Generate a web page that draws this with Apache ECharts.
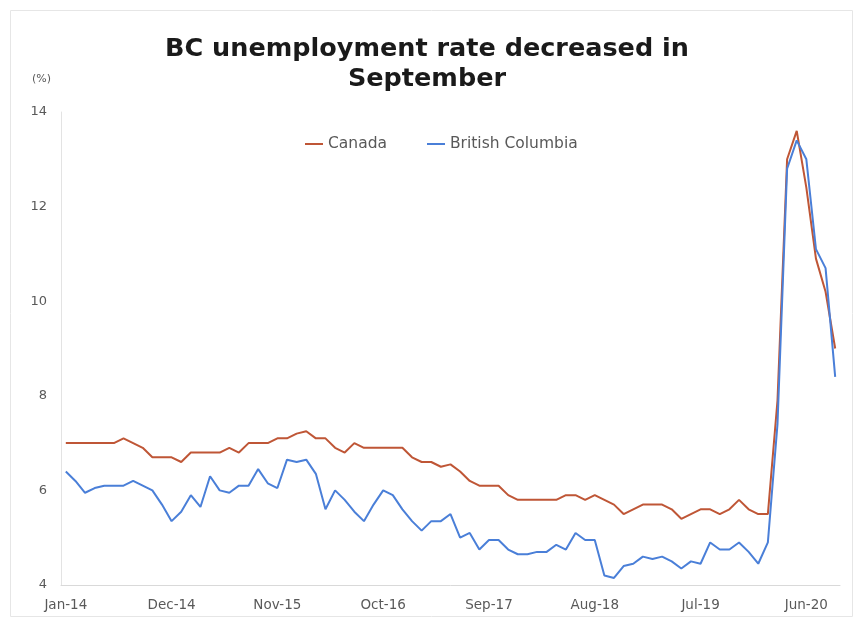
<!DOCTYPE html>
<html>
<head>
<meta charset="utf-8">
<script src="https://cdn.jsdelivr.net/npm/echarts@6/dist/echarts.min.js"></script>
<style>
html,body{margin:0;padding:0;background:#fff;}
#chart{width:854px;height:626px;}
</style>
</head>
<body>
<div id="chart"></div>
<script>
var months = ["Jan-14","Feb-14","Mar-14","Apr-14","May-14","Jun-14","Jul-14","Aug-14","Sep-14","Oct-14","Nov-14","Dec-14",
"Jan-15","Feb-15","Mar-15","Apr-15","May-15","Jun-15","Jul-15","Aug-15","Sep-15","Oct-15","Nov-15","Dec-15",
"Jan-16","Feb-16","Mar-16","Apr-16","May-16","Jun-16","Jul-16","Aug-16","Sep-16","Oct-16","Nov-16","Dec-16",
"Jan-17","Feb-17","Mar-17","Apr-17","May-17","Jun-17","Jul-17","Aug-17","Sep-17","Oct-17","Nov-17","Dec-17",
"Jan-18","Feb-18","Mar-18","Apr-18","May-18","Jun-18","Jul-18","Aug-18","Sep-18","Oct-18","Nov-18","Dec-18",
"Jan-19","Feb-19","Mar-19","Apr-19","May-19","Jun-19","Jul-19","Aug-19","Sep-19","Oct-19","Nov-19","Dec-19",
"Jan-20","Feb-20","Mar-20","Apr-20","May-20","Jun-20","Jul-20","Aug-20","Sep-20"];

var canada = [7.0,7.0,7.0,7.0,7.0,7.0,7.1,7.0,6.9,6.7,6.7,6.7,
6.6,6.8,6.8,6.8,6.8,6.9,6.8,7.0,7.0,7.0,7.1,7.1,
7.2,7.25,7.1,7.1,6.9,6.8,7.0,6.9,6.9,6.9,6.9,6.9,
6.7,6.6,6.6,6.5,6.55,6.4,6.2,6.1,6.1,6.1,5.9,5.8,
5.8,5.8,5.8,5.8,5.9,5.9,5.8,5.9,5.8,5.7,5.5,5.6,
5.7,5.7,5.7,5.6,5.4,5.5,5.6,5.6,5.5,5.6,5.8,5.6,
5.5,5.5,7.9,13.0,13.6,12.4,10.9,10.2,9.0];

var bc = [6.4,6.2,5.95,6.05,6.1,6.1,6.1,6.2,6.1,6.0,5.7,5.35,
5.55,5.9,5.65,6.3,6.0,5.95,6.1,6.1,6.45,6.15,6.05,6.65,
6.6,6.65,6.35,5.6,6.0,5.8,5.55,5.35,5.7,6.0,5.9,5.6,
5.35,5.15,5.35,5.35,5.5,5.0,5.1,4.75,4.95,4.95,4.75,4.65,
4.65,4.7,4.7,4.85,4.75,5.1,4.95,4.95,4.2,4.15,4.4,4.45,
4.6,4.55,4.6,4.5,4.35,4.5,4.45,4.9,4.75,4.75,4.9,4.7,
4.45,4.9,7.4,12.8,13.4,13.0,11.1,10.7,8.4];

var seriesNames = ["Canada","British Columbia"];
var yTicks = {min:4, max:14, interval:2};

var chart = echarts.init(document.getElementById('chart'));
chart.setOption({
  backgroundColor:'#ffffff',
  animation:false,
  title:{
    text:'BC unemployment rate decreased in\nSeptember',
    left:'center', top:29,
    textStyle:{fontFamily:'DejaVu Sans', fontWeight:'bold', fontSize:25.5, color:'#1a1a1a', lineHeight:30}
  },
  graphic:[
    {type:'rect', left:8, top:8, shape:{width:842, height:606}, style:{fill:'none', stroke:'#e6e6e6', lineWidth:1}},
    {type:'text', left:32, top:74, style:{text:'(%)', fill:'#595959', font:'11px "DejaVu Sans"'}}
  ],
  legend:{
    top:131, left:300, itemGap:40, itemWidth:18, itemHeight:2,
    icon:'rect',
    textStyle:{fontFamily:'DejaVu Sans', fontSize:15.5, color:'#595959'},
    data:seriesNames
  },
  grid:{left:61, right:14, top:112, bottom:41},
  xAxis:{
    type:'category', data:months, boundaryGap:true,
    axisLine:{show:true, lineStyle:{color:'#d9d9d9'}},
    axisTick:{show:false},
    axisLabel:{interval:10, color:'#595959', fontFamily:'DejaVu Sans', fontSize:13.5, margin:13}
  },
  yAxis:{
    type:'value', min:yTicks.min, max:yTicks.max, interval:yTicks.interval,
    axisLine:{show:true, lineStyle:{color:'#e3e3e3'}},
    axisTick:{show:false},
    splitLine:{show:false},
    axisLabel:{color:'#595959', fontFamily:'DejaVu Sans', fontSize:13, margin:14}
  },
  series:[
    {name:seriesNames[0], type:'line', data:canada, showSymbol:false, symbol:'none',
     lineStyle:{color:'#bf5636', width:2}, itemStyle:{color:'#bf5636'}},
    {name:seriesNames[1], type:'line', data:bc, showSymbol:false, symbol:'none',
     lineStyle:{color:'#4a7fd8', width:2}, itemStyle:{color:'#4a7fd8'}}
  ]
});
</script>
</body>
</html>
